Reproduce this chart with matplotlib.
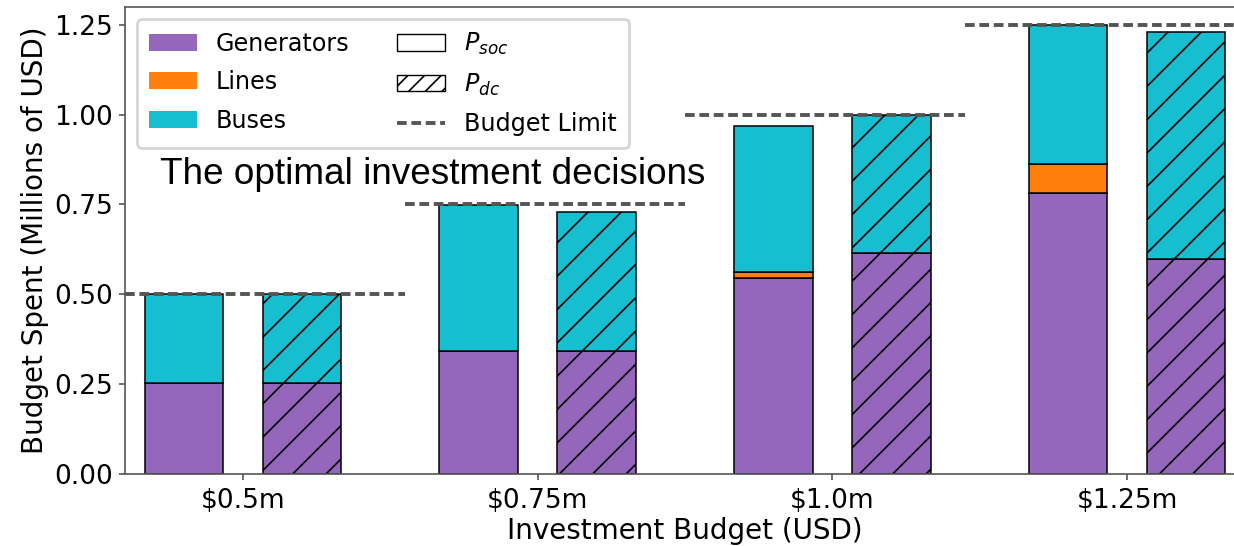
import matplotlib
matplotlib.use("Agg")
import matplotlib.pyplot as plt
import numpy as np
from matplotlib.patches import Patch
from matplotlib.lines import Line2D

# ---- data ----
budgets = [0.5, 0.75, 1.0, 1.25]
tick_labels = ["$0.5m", "$0.75m", "$1.0m", "$1.25m"]
# P_soc solution
soc_generators = [0.252, 0.342, 0.545, 0.783]
soc_lines = [0.0, 0.0, 0.018, 0.080]
soc_buses = [0.248, 0.406, 0.406, 0.387]
# P_dc solution
dc_generators = [0.252, 0.342, 0.614, 0.598]
dc_lines = [0.0, 0.0, 0.0, 0.0]
dc_buses = [0.248, 0.386, 0.386, 0.631]

c_gen = "#9467bd"
c_line = "#ff7f0e"
c_bus = "#17becf"

plt.rcParams["hatch.linewidth"] = 0.6
plt.rcParams["font.family"] = "DejaVu Sans"

fig = plt.figure(figsize=(6.17, 2.73), dpi=200)
ax = fig.add_axes([125 / 1234, 1 - 473.7 / 546, 1120 / 1234, (473.7 - 7) / 546])

x = np.arange(len(budgets))
off = 0.2
w = 0.266
ekw = dict(edgecolor="black", linewidth=0.55)

for xs, gen, lin, bus, hatch in [
    (x - off, soc_generators, soc_lines, soc_buses, None),
    (x + off, dc_generators, dc_lines, dc_buses, "//"),
]:
    gen = np.array(gen); lin = np.array(lin); bus = np.array(bus)
    ax.bar(xs, gen, w, color=c_gen, hatch=hatch, **ekw)
    mask = lin > 0
    ax.bar(xs[mask], lin[mask], w, bottom=gen[mask], color=c_line, hatch=hatch, **ekw)
    ax.bar(xs, bus, w, bottom=gen + lin, color=c_bus, hatch=hatch, **ekw)

dash = (0, (2.5, 1.2))
n = len(budgets)
for k, b in enumerate(budgets):
    ax.axhline(b, xmin=k / n, xmax=(k + 1) / n, color="#555555", lw=1.4,
               linestyle=dash, zorder=3)

ax.set_xlim(-0.4, 3.4)
ax.set_ylim(0, 1.3)
ax.set_xticks(x)
ax.set_xticklabels(tick_labels, fontsize=9.5)
ax.set_yticks([0, 0.25, 0.5, 0.75, 1.0, 1.25])
ax.set_yticklabels([f"{v:.2f}" for v in [0, 0.25, 0.5, 0.75, 1.0, 1.25]], fontsize=9.5)
ax.set_xlabel("Investment Budget (USD)", fontsize=10, labelpad=1.0)
ax.set_ylabel("Budget Spent (Millions of USD)", fontsize=10, labelpad=2)
for s in ax.spines.values():
    s.set_color("#555555")
    s.set_linewidth(0.6)
ax.tick_params(length=2.2, width=0.6, color="#555555")
ax.tick_params(axis="x", pad=3.0)
ax.tick_params(axis="y", pad=2)

handles = [
    Patch(facecolor=c_gen, edgecolor="none", label="Generators"),
    Patch(facecolor=c_line, edgecolor="none", label="Lines"),
    Patch(facecolor=c_bus, edgecolor="none", label="Buses"),
    Patch(facecolor="white", edgecolor="black", linewidth=0.5, label="$P_{soc}$"),
    Patch(facecolor="white", edgecolor="black", linewidth=0.5, hatch="////", label="$P_{dc}$"),
    Line2D([0], [0], color="#555555", lw=1.4, linestyle=dash, label="Budget Limit"),
]
ax.legend(handles=handles, ncol=2, loc="upper left", fontsize=8.6,
          labelspacing=0.6, borderpad=0.5)

fig.text(160 / 1234, 1 - 184 / 546, "The optimal investment decisions",
         fontsize=13.3, family="Liberation Sans", va="baseline", ha="left")

fig.savefig("out.png", dpi=200)
